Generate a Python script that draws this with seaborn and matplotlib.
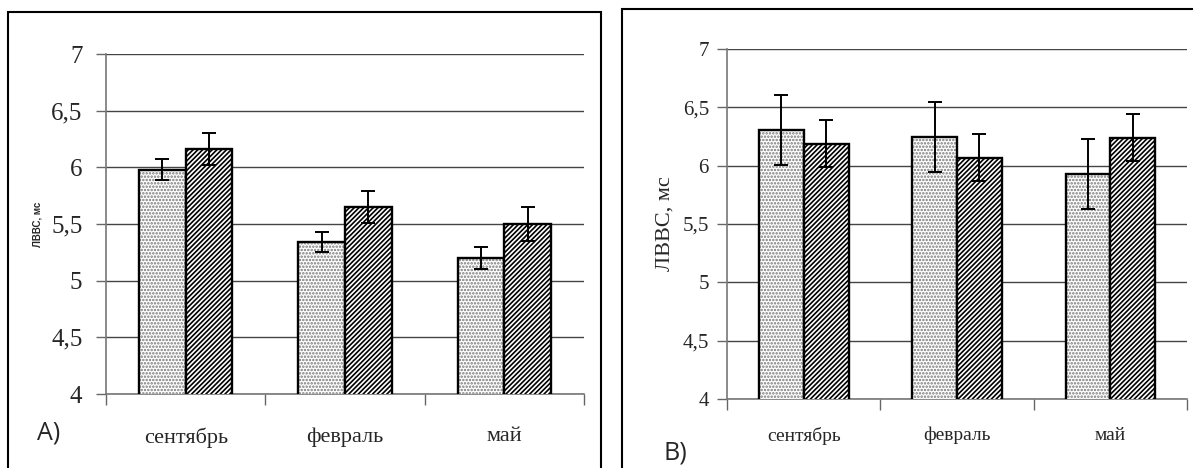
import pandas as pd
import seaborn as sns
import matplotlib.pyplot as plt
from matplotlib.patches import Rectangle
from matplotlib.ticker import FixedLocator
from matplotlib.colors import to_rgba

# months and the two groups
months = ['сентябрь', 'февраль', 'май']
groups = ['группа 1', 'группа 2']

# panel A values (ms) and errors
a_g1 = [5.98, 5.34, 5.20]
a_g2 = [6.16, 5.65, 5.50]
a_err1 = [0.09, 0.09, 0.10]
a_err2 = [0.14, 0.14, 0.15]

# panel B values (ms) and errors
b_g1 = [6.31, 6.25, 5.93]
b_g2 = [6.19, 6.07, 6.24]
b_err1 = [0.30, 0.30, 0.30]
b_err2 = [0.20, 0.20, 0.20]

y_ticks = [4, 4.5, 5, 5.5, 6, 6.5, 7]
y_labels = ['4', '4,5', '5', '5,5', '6', '6,5', '7']

sns.set_style('white')
plt.rcParams['font.family'] = ['Liberation Serif', 'DejaVu Serif']
plt.rcParams['hatch.linewidth'] = 1.2

fig = plt.figure(figsize=(11.93, 4.68), dpi=100)

# outer frames around the two panels
fig.patches.append(Rectangle((8 / 1193, -0.1), (601 - 8) / 1193, 1.1 - 12 / 468,
                             transform=fig.transFigure, fill=False, lw=1.5, ec='black'))
fig.patches.append(Rectangle((622 / 1193, -0.1), 0.5, 1.1 - 9 / 468,
                             transform=fig.transFigure, fill=False, lw=1.5, ec='black'))

axA = fig.add_axes([0.0889, 0.1581, 0.4007, 0.7265])
axB = fig.add_axes([0.6094, 0.1474, 0.3856, 0.7479])


def draw_panel(ax, g1, g2, e1, e2, tick_size, x_size, ypad, xpad):
    df = pd.DataFrame({
        'month': months * 2,
        'group': [groups[0]] * 3 + [groups[1]] * 3,
        'value': g1 + g2,
    })
    err = e1 + e2
    sns.barplot(data=df, x='month', y='value', hue='group', order=months,
                hue_order=groups, palette=['white', 'white'], width=0.585,
                edgecolor='black', linewidth=1.7, errorbar=None, legend=False,
                ax=ax, zorder=3)
    # dotted grey for the first group, black stripes for the second
    hatches = ['.....', '///////']
    hatch_cols = ['#777777', 'black']
    for cont, h, hc in zip(ax.containers, hatches, hatch_cols):
        for p in cont:
            p.set_hatch(h)
            p._hatch_color = to_rgba(hc)
    # error bars at the bar centres
    xs, ys = [], []
    for cont in ax.containers:
        for p in cont:
            xs.append(p.get_x() + p.get_width() / 2)
            ys.append(p.get_height())
    ax.errorbar(xs, ys, yerr=err, fmt='none', ecolor='black', elinewidth=1.4,
                capsize=4.7, capthick=1.4, zorder=4)

    ax.set_ylim(4, 7)
    ax.set_xlim(-0.5, 2.5)
    ax.set_yticks(y_ticks)
    ax.set_yticklabels(y_labels, fontsize=tick_size)
    ax.yaxis.grid(True, color='#444444', lw=1.0)
    ax.set_axisbelow(True)
    ax.xaxis.set_minor_locator(FixedLocator([-0.5, 0.5, 1.5, 2.5]))
    ax.tick_params(axis='x', which='major', length=0, pad=xpad, labelsize=x_size)
    ax.tick_params(axis='x', which='minor', length=8, width=1, color='#666666',
                   direction='out', bottom=True)
    ax.tick_params(axis='y', length=7, width=1, color='#666666', direction='out',
                   left=True, pad=ypad)
    for s in ['top', 'right']:
        ax.spines[s].set_visible(False)
    for s in ['left', 'bottom']:
        ax.spines[s].set_color('#777777')
        ax.spines[s].set_linewidth(1.2)
    ax.set_xlabel('')


draw_panel(axA, a_g1, a_g2, a_err1, a_err2, 18, 16, 10, 24)
axA.set_ylabel('ЛВВС, мс', fontsize=7, fontweight='bold',
               family=['Liberation Sans', 'DejaVu Sans'], labelpad=6)

draw_panel(axB, b_g1, b_g2, b_err1, b_err2, 15, 14, 6, 20)
axB.set_ylabel('ЛВВС, мс', fontsize=16, labelpad=6)

fig.text(37 / 1193, 1 - 433 / 468, 'А)', fontsize=18, va='center',
         family=['Open Sans', 'DejaVu Sans'])
fig.text(663 / 1193, 1 - 453 / 468, 'В)', fontsize=18, va='center',
         family=['Open Sans', 'DejaVu Sans'])

fig.savefig('out.png', dpi=100)
